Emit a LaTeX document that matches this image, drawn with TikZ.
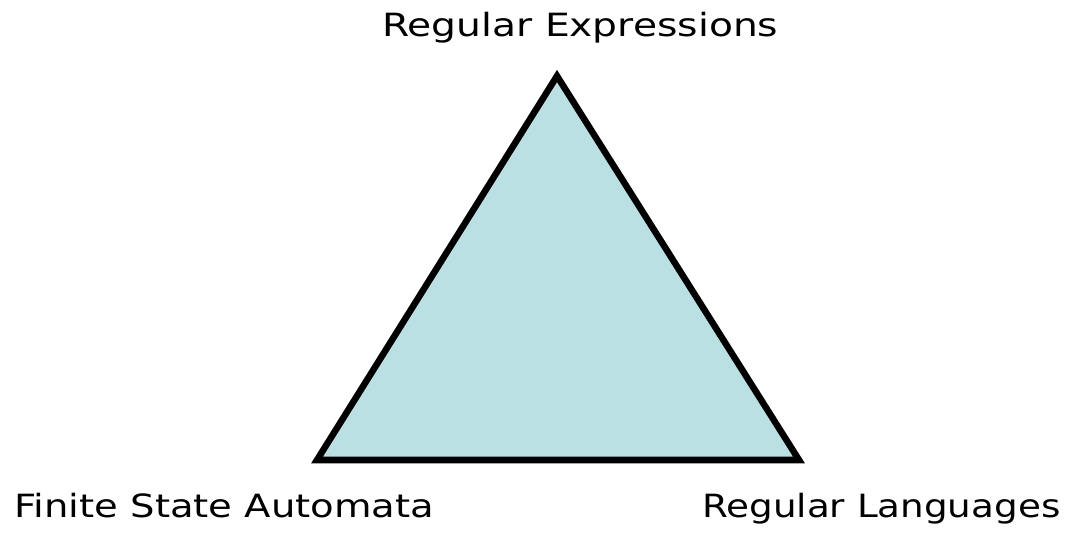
\documentclass[tikz,border=0pt]{standalone}
\usepackage{fontspec}
\setmainfont{DejaVu Sans}
\definecolor{trifill}{HTML}{BBE0E3}
\begin{document}
\begin{tikzpicture}[x=1pt,y=1pt,
  lbl/.style={inner sep=0pt, font=\fontsize{32}{38}\selectfont}]
\useasboundingbox (0,0) rectangle (1070,538);
\coordinate (top) at (557,462);
\coordinate (bl) at (317,78);
\coordinate (br) at (799,78);
\draw[line width=6.5pt, miter limit=10, fill=trifill] (top) -- (bl) -- (br) -- cycle;
\node[lbl, anchor=base west] (re) at (382,501) {\scalebox{1.225}[1]{Regular Expressions}};
\node[lbl, anchor=base west] (fsa) at (14,21) {\scalebox{1.205}[1]{Finite State Automata}};
\node[lbl, anchor=base west] (rl) at (702,21) {\scalebox{1.165}[1]{Regular Languages}};
\end{tikzpicture}
\end{document}
